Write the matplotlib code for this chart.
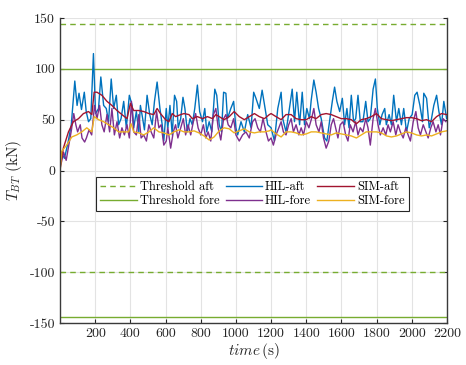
import numpy as np
import matplotlib
matplotlib.use("Agg")
import matplotlib.pyplot as plt

plt.rcParams['font.family'] = ['cmr10', 'DejaVu Serif']
plt.rcParams['mathtext.fontset'] = 'cm'
plt.rcParams['axes.unicode_minus'] = False
plt.rcParams['axes.formatter.use_mathtext'] = False

# thresholds (kN)
thr_aft = [144, -100]
thr_fore = [100, -144]

# HIL-aft (time s, force kN)
t_hil_aft = [2, 7, 25, 45, 64, 84, 97, 108, 122, 138, 149, 162, 175, 190, 202, 219, 232, 248, 263, 276,
             291, 305, 320, 333, 347, 362, 377, 394, 410, 419, 434, 448, 457, 470, 480, 495, 510, 524, 537, 552,
             568, 581, 590, 604, 613, 625, 638, 651, 663, 672, 686, 699, 710, 724, 739, 752, 766, 781, 794, 810,
             823, 834, 848, 863, 880, 891, 905, 918, 930, 943, 952, 971, 987, 1000, 1010, 1029, 1048, 1067, 1086, 1101,
             1114, 1133, 1149, 1165, 1181, 1200, 1219, 1238, 1257, 1266, 1285, 1304, 1320, 1333, 1346, 1362, 1377, 1390, 1403, 1418,
             1428, 1443, 1456, 1470, 1485, 1504, 1517, 1532, 1548, 1561, 1574, 1590, 1605, 1618, 1631, 1643, 1656, 1669, 1681, 1694,
             1707, 1722, 1738, 1751, 1764, 1780, 1793, 1804, 1818, 1831, 1846, 1855, 1871, 1884, 1897, 1913, 1926, 1941, 1954, 1970,
             1985, 2002, 2017, 2030, 2046, 2061, 2068, 2084, 2099, 2112, 2125, 2141, 2154, 2169, 2182, 2198]
hil_aft = [8, 18, 12, 27, 45, 88, 64, 76, 60, 77, 58, 48, 51, 115, 56, 61, 92, 64, 61, 48,
           90, 61, 74, 45, 51, 68, 42, 74, 64, 42, 58, 38, 64, 51, 40, 74, 55, 45, 68, 87,
           61, 45, 29, 61, 42, 64, 35, 74, 68, 42, 51, 72, 61, 38, 51, 45, 61, 84, 58, 48,
           61, 38, 48, 38, 80, 74, 45, 38, 77, 76, 51, 61, 68, 42, 35, 48, 38, 55, 42, 77,
           71, 61, 79, 62, 45, 42, 29, 61, 77, 51, 38, 61, 80, 48, 77, 45, 77, 45, 61, 51,
           69, 89, 77, 61, 51, 32, 29, 48, 68, 82, 68, 58, 71, 45, 61, 42, 74, 48, 51, 74,
           48, 48, 68, 48, 51, 80, 90, 61, 45, 55, 61, 45, 55, 45, 74, 48, 61, 45, 61, 38,
           51, 55, 74, 77, 64, 48, 76, 71, 42, 51, 64, 74, 58, 45, 68, 51]

# HIL-fore
t_hil_fore = [2, 20, 35, 50, 65, 78, 90, 100, 115, 125, 140, 150, 165, 180, 196, 210, 225, 238, 251, 267,
              282, 295, 309, 324, 339, 352, 366, 381, 394, 406, 419, 434, 448, 461, 476, 491, 505, 518, 533, 549,
              562, 575, 590, 604, 613, 629, 644, 657, 670, 686, 701, 714, 728, 743, 758, 771, 785, 800, 815, 829,
              842, 857, 872, 886, 899, 914, 930, 943, 956, 971, 987, 1000, 1019, 1038, 1057, 1076, 1095, 1109, 1124, 1139,
              1154, 1171, 1185, 1200, 1213, 1228, 1244, 1257, 1270, 1285, 1300, 1314, 1327, 1342, 1358, 1371, 1384, 1400, 1415, 1430,
              1443, 1456, 1472, 1485, 1498, 1513, 1528, 1542, 1555, 1567, 1580, 1593, 1609, 1624, 1637, 1650, 1666, 1681, 1694, 1707,
              1722, 1738, 1751, 1764, 1780, 1793, 1808, 1821, 1837, 1852, 1865, 1878, 1894, 1909, 1922, 1935, 1951, 1966, 1979, 1992,
              2008, 2023, 2036, 2049, 2065, 2080, 2093, 2108, 2121, 2137, 2150, 2163, 2178, 2194]
hil_fore = [3, 18, 10, 25, 40, 56, 45, 38, 45, 32, 28, 32, 40, 35, 64, 51, 64, 45, 38, 55,
            38, 61, 35, 48, 32, 42, 35, 45, 32, 68, 38, 35, 55, 32, 35, 29, 45, 38, 32, 58,
            42, 45, 25, 29, 42, 22, 38, 45, 32, 42, 51, 35, 45, 35, 48, 56, 42, 35, 45, 32,
            38, 29, 55, 61, 42, 30, 51, 55, 45, 42, 51, 35, 29, 35, 38, 32, 48, 51, 42, 38,
            51, 38, 29, 32, 25, 35, 42, 48, 38, 35, 45, 51, 38, 45, 35, 42, 35, 48, 42, 51,
            61, 45, 38, 48, 32, 22, 29, 45, 51, 42, 32, 45, 48, 35, 29, 45, 38, 48, 35, 42,
            38, 51, 42, 25, 51, 61, 45, 35, 42, 35, 45, 38, 48, 35, 45, 38, 32, 42, 35, 29,
            48, 58, 42, 35, 45, 38, 32, 42, 48, 38, 45, 35, 51, 48]

# SIM-aft
t_sim_aft = [2, 19, 48, 76, 105, 133, 162, 181, 194, 210, 238, 267, 295, 324, 352, 381, 400, 419, 448, 476,
             505, 533, 552, 571, 600, 619, 638, 657, 686, 705, 733, 752, 781, 810, 838, 867, 886, 905, 933, 962,
             990, 1019, 1048, 1076, 1105, 1133, 1162, 1190, 1200, 1228, 1257, 1285, 1314, 1342, 1371, 1400, 1428, 1456, 1485, 1513,
             1542, 1570, 1599, 1628, 1656, 1685, 1713, 1741, 1770, 1799, 1827, 1856, 1884, 1913, 1941, 1970, 1998, 2027, 2055, 2084,
             2112, 2141, 2169, 2198]
sim_aft = [5, 22, 38, 48, 51, 56, 58, 55, 77, 77, 74, 68, 64, 59, 55, 51, 66, 59, 59, 58,
           56, 55, 61, 56, 50, 48, 56, 53, 55, 56, 55, 51, 53, 51, 53, 51, 55, 53, 50, 53,
           58, 53, 50, 53, 56, 53, 51, 55, 56, 53, 50, 55, 55, 51, 50, 50, 53, 51, 55, 56,
           55, 53, 51, 51, 50, 46, 50, 51, 53, 56, 51, 50, 49, 50, 51, 52, 52, 51, 49, 50,
           48, 53, 56, 55]

# SIM-fore
t_sim_fore = [2, 10, 38, 67, 95, 124, 152, 181, 194, 219, 248, 276, 305, 333, 362, 390, 404, 419, 448, 476,
              505, 533, 562, 590, 619, 648, 676, 705, 733, 762, 790, 819, 848, 876, 905, 933, 962, 990, 1019, 1048,
              1076, 1105, 1133, 1162, 1190, 1200, 1228, 1257, 1285, 1314, 1342, 1371, 1400, 1428, 1456, 1485, 1513, 1542, 1570, 1599,
              1628, 1656, 1685, 1713, 1741, 1770, 1799, 1827, 1856, 1884, 1913, 1941, 1970, 1998, 2027, 2055, 2084, 2112, 2141, 2169,
              2198]
sim_fore = [2, 19, 25, 33, 35, 38, 42, 38, 53, 50, 48, 45, 42, 38, 38, 38, 46, 38, 37, 35,
            38, 42, 38, 37, 35, 38, 40, 38, 38, 39, 37, 34, 30, 33, 39, 42, 41, 37, 39, 41,
            38, 37, 38, 38, 39, 40, 36, 33, 38, 38, 37, 35, 36, 38, 38, 37, 36, 35, 37, 36,
            35, 34, 32, 35, 38, 38, 38, 37, 34, 33, 34, 36, 38, 37, 35, 34, 35, 34, 36, 38,
            39]

c_blue = '#0072BD'
c_purple = '#7E2F8E'
c_red = '#A2142F'
c_orange = '#EDB120'
c_green = '#77AC30'
c_ax = '#262626'

fig = plt.figure(figsize=(4.66, 3.65), dpi=100)
ax = fig.add_axes([0.1288, 0.115, 0.8304, 0.8357])

h1 = None
for v in thr_aft:
    h1, = ax.plot([0, 2200], [v, v], '--', color=c_green, lw=1.0, dashes=(4, 3))
h2 = None
for v in thr_fore:
    h2, = ax.plot([0, 2200], [v, v], '-', color=c_green, lw=1.0)

h3, = ax.plot(t_hil_aft, hil_aft, color=c_blue, lw=1.0)
h4, = ax.plot(t_hil_fore, hil_fore, color=c_purple, lw=1.0)
h5, = ax.plot(t_sim_aft, sim_aft, color=c_red, lw=1.0)
h6, = ax.plot(t_sim_fore, sim_fore, color=c_orange, lw=1.0)

ax.set_xlim(0, 2200)
ax.set_ylim(-150, 150)
ax.set_xticks(np.arange(200, 2201, 200))
ax.set_yticks(np.arange(-150, 151, 50))
ax.grid(True, color='#E3E3E3', lw=0.8)
ax.set_axisbelow(True)
ax.tick_params(direction='in', right=True, length=3, labelsize=10, colors=c_ax)
ax.spines['top'].set_visible(False)
for s in ['left', 'bottom', 'right']:
    ax.spines[s].set_color('#3a3a3a')
    ax.spines[s].set_linewidth(1.0)

ax.set_xlabel(r'$time\,$(s)', fontsize=11, color=c_ax, labelpad=1)
ax.set_ylabel(r'$T_{BT}$ (kN)', fontsize=11, color=c_ax)
ax.yaxis.set_label_coords(-0.094, 0.5)

leg = ax.legend([h1, h2, h3, h4, h5, h6],
                ['Threshold aft', 'Threshold fore', 'HIL-aft', 'HIL-fore', 'SIM-aft', 'SIM-fore'],
                ncol=3, loc='upper left', bbox_to_anchor=(0.093, 0.48), fontsize=9,
                fancybox=False, edgecolor=c_ax, framealpha=1, handlelength=2.9,
                handletextpad=0.25, columnspacing=0.5, borderpad=0.35, labelspacing=0.15,
                borderaxespad=0)
leg.get_frame().set_linewidth(0.8)

fig.savefig('out.png', dpi=100)
